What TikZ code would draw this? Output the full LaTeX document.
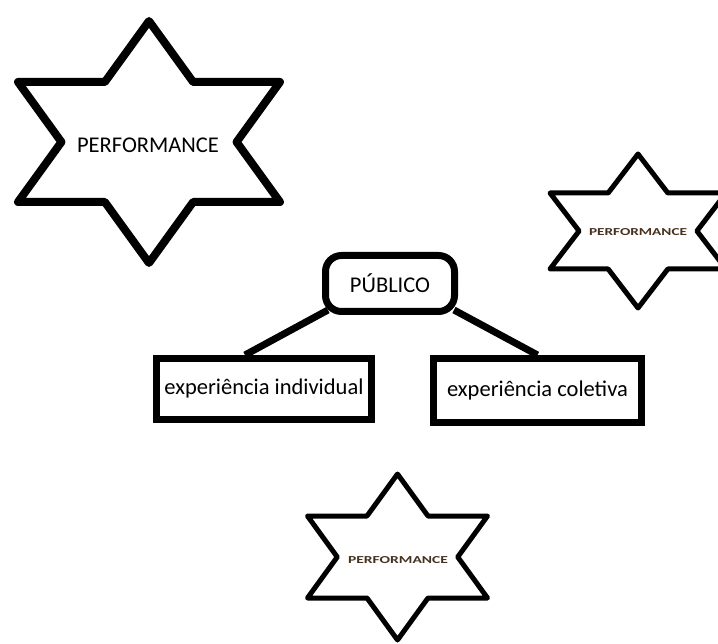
\documentclass[tikz,border=0pt]{standalone}
\usepackage{graphicx}
\usepackage{fontspec}
\setmainfont{Carlito}
\usetikzlibrary{backgrounds}
\newcommand{\drawhexstar}[6]{%
  \pgfmathsetmacro\hsA{#3*(#4-#5)/(#4+#5)}%
  \pgfmathsetmacro\hsB{#3*#4/(#4+#5)}%
  \draw[starline, line width=#6]
    (#1,#2-#4) -- (#1+\hsA,#2-#5) -- (#1+#3,#2-#5) -- (#1+\hsB,#2)
    -- (#1+#3,#2+#5) -- (#1+\hsA,#2+#5) -- (#1,#2+#4) -- (#1-\hsA,#2+#5)
    -- (#1-#3,#2+#5) -- (#1-\hsB,#2) -- (#1-#3,#2-#5) -- (#1-\hsA,#2-#5) -- cycle;}
\tikzset{
  starline/.style={draw=black, fill=white, line join=round},
  bigtext/.style={font=\fontsize{22.5}{26}\selectfont, text=black, inner sep=0pt},
  smalltext/.style={text={rgb,255:red,70;green,50;blue,30}, inner sep=0pt, font=\bfseries},
  pubbox/.style={draw=black, fill=white, line width=7pt, rounded corners=16pt,
    minimum width=129pt, minimum height=56pt, inner sep=0pt,
    font=\fontsize{22.5}{26}\selectfont},
  expbox/.style={draw=black, fill=white, line width=7pt, inner sep=0pt,
    font=\fontsize{22.5}{26}\selectfont},
  link/.style={draw=black, line width=7pt}
}
\begin{document}
\begin{tikzpicture}[x=1pt, y=-1pt]
\useasboundingbox (0,0) rectangle (718,644);
\clip (0,0) rectangle (718,644);

% stars
\drawhexstar{149}{142}{131}{121}{60}{8pt}
\drawhexstar{638}{231}{88}{77}{38}{5pt}
\drawhexstar{397.5}{557}{90}{83}{41}{5pt}

\node[bigtext] (perf1) at (148,145) {PERFORMANCE};
\node[smalltext] (perf2) at (638,232) {\resizebox{98pt}{7pt}{PERFORMANCE}};
\node[smalltext] (perf3) at (398,560) {\resizebox{100pt}{7pt}{PERFORMANCE}};

% tree
\node[pubbox] (pub) at (390,283.5) {PÚBLICO};
\node[expbox, minimum width=215pt, minimum height=61pt] (ind) at (264,389) {experiência individual};
\node[expbox, minimum width=208pt, minimum height=64pt] (col) at (537.5,390.5) {experiência coletiva};

\begin{scope}[on background layer]
\fill[white] (0,0) rectangle (718,644);
\draw[link] ([xshift=6pt,yshift=5pt]pub.south west) -- ([xshift=-19pt]ind.north);
\draw[link] ([xshift=-4pt,yshift=5pt]pub.south east) -- (col.north);
\end{scope}
\end{tikzpicture}
\end{document}
